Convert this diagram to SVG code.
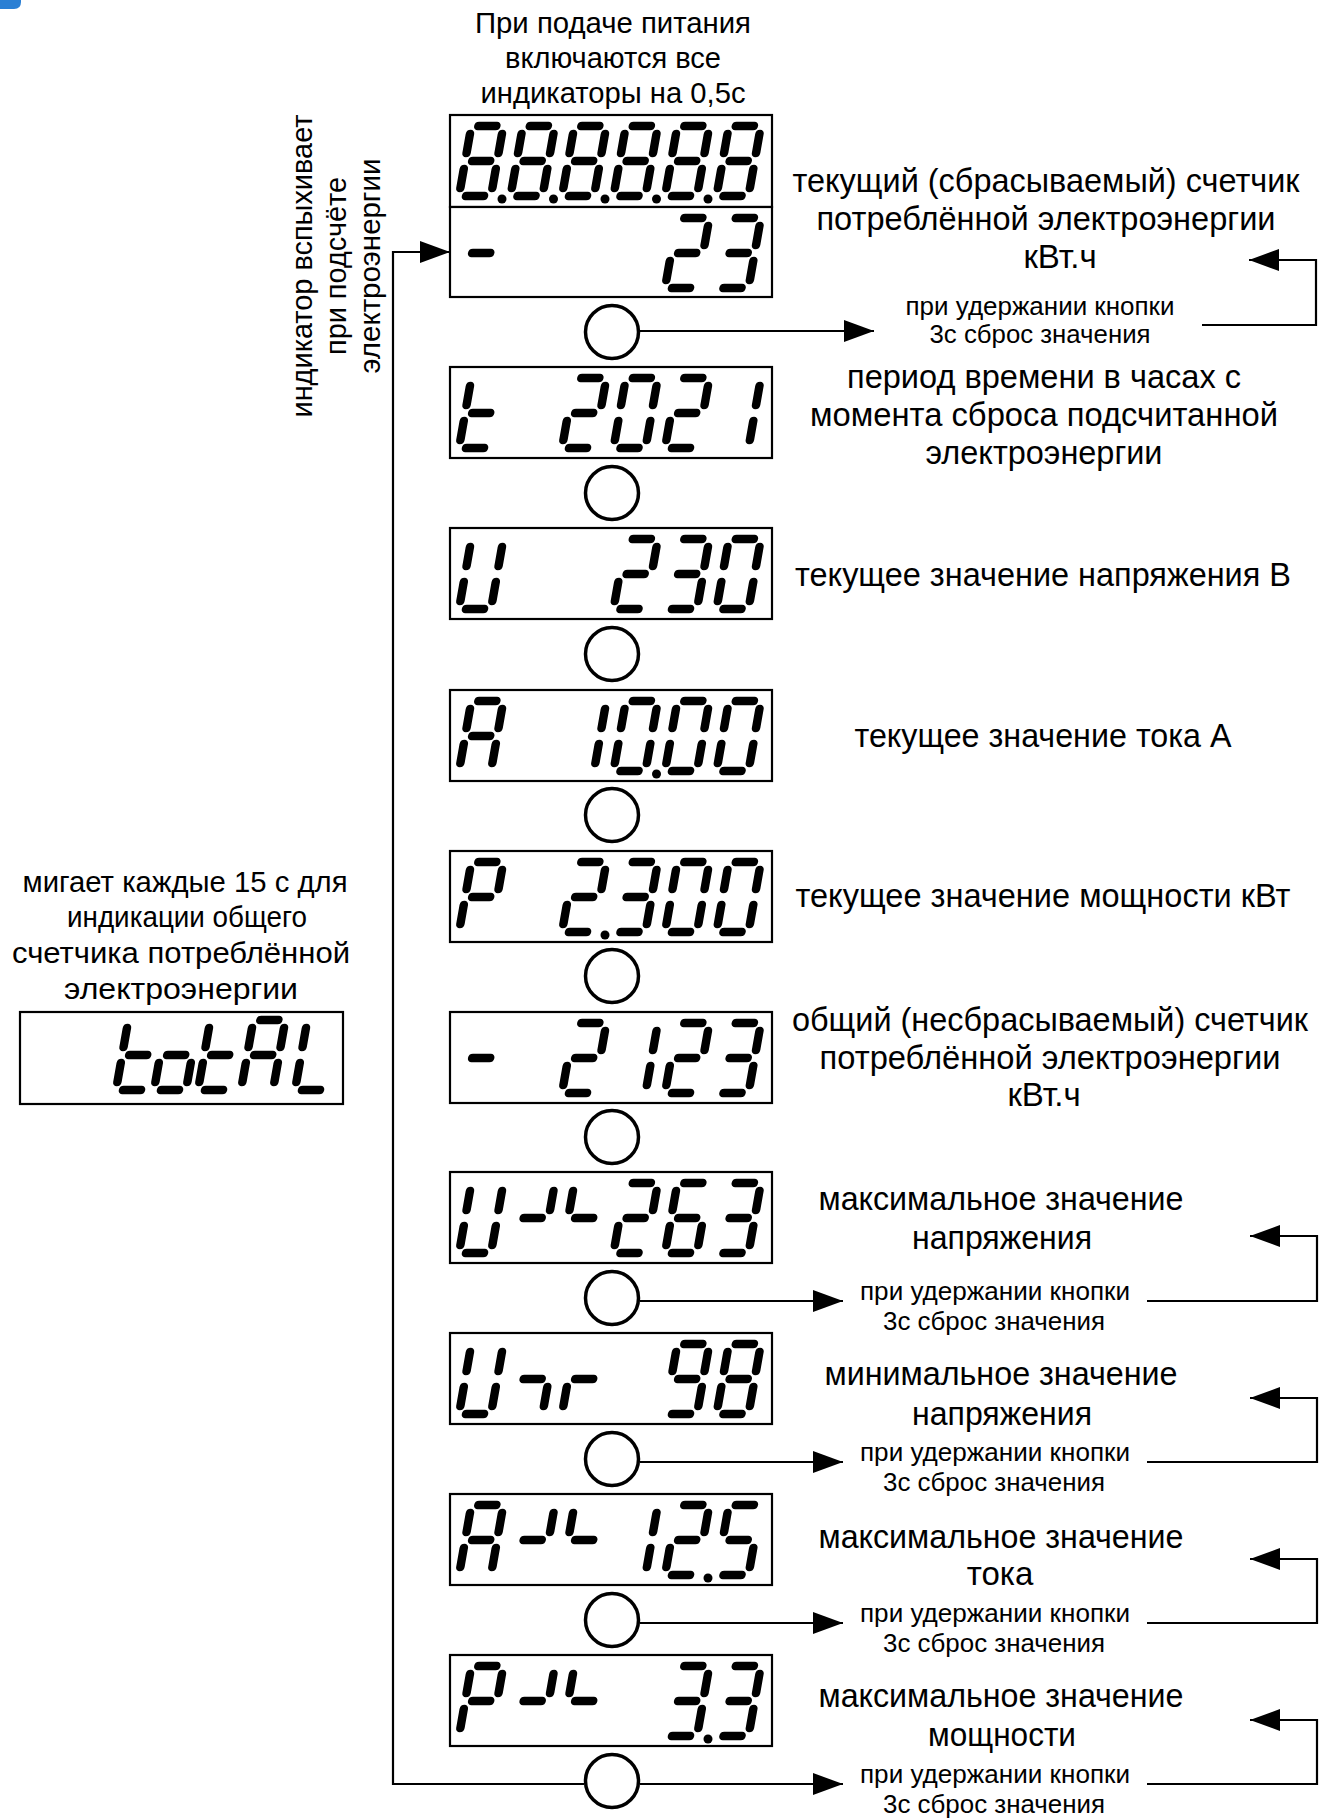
<svg xmlns="http://www.w3.org/2000/svg" xmlns:xlink="http://www.w3.org/1999/xlink" width="1327" height="1819" viewBox="0 0 1327 1819">
<style>
.box{fill:#fff;stroke:#000;stroke-width:2.2}
.btn{fill:#fff;stroke:#000;stroke-width:3.5}
.seg{fill:none;stroke:#000;stroke-width:8.5;stroke-linecap:round}
.dp{fill:#000}
.ln{fill:none;stroke:#000;stroke-width:2.2}
text{font-family:"Liberation Sans",Arial,sans-serif;fill:#000}
.t1{font-size:33px;text-anchor:middle}
.t2{font-size:29.5px;text-anchor:middle}
.t3{font-size:26px;text-anchor:middle}
</style>
<defs>
<marker id="ah" markerUnits="userSpaceOnUse" markerWidth="30" markerHeight="22" refX="30" refY="11" orient="auto"><path d="M0,0L30,11L0,22z" fill="#000"/></marker>
<path id="c8" class="seg" d="M7,-70H25M32,-62V-43M32,-27V-8M7,0H25M0,-27V-8M0,-62V-43M7,-35H25"/>
<path id="c0" class="seg" d="M7,-70H25M32,-62V-43M32,-27V-8M7,0H25M0,-27V-8M0,-62V-43"/>
<path id="c1" class="seg" d="M32,-62V-43M32,-27V-8"/>
<path id="c2" class="seg" d="M7,-70H25M32,-62V-43M7,-35H25M0,-27V-8M7,0H25"/>
<path id="c3" class="seg" d="M7,-70H25M32,-62V-43M7,-35H25M32,-27V-8M7,0H25"/>
<path id="c5" class="seg" d="M7,-70H25M0,-62V-43M7,-35H25M32,-27V-8M7,0H25"/>
<path id="c6" class="seg" d="M7,-70H25M0,-62V-43M7,-35H25M0,-27V-8M32,-27V-8M7,0H25"/>
<path id="c9" class="seg" d="M7,-70H25M32,-62V-43M32,-27V-8M7,0H25M0,-62V-43M7,-35H25"/>
<path id="cA" class="seg" d="M7,-70H25M32,-62V-43M32,-27V-8M0,-27V-8M0,-62V-43M7,-35H25"/>
<path id="cP" class="seg" d="M7,-70H25M32,-62V-43M0,-27V-8M0,-62V-43M7,-35H25"/>
<path id="cU" class="seg" d="M32,-62V-43M32,-27V-8M7,0H25M0,-27V-8M0,-62V-43"/>
<path id="ct" class="seg" d="M7,0H25M0,-27V-8M0,-62V-43M7,-35H25"/>
<path id="cL" class="seg" d="M7,0H25M0,-27V-8M0,-62V-43"/>
<path id="co" class="seg" d="M32,-27V-8M7,0H25M0,-27V-8M7,-35H25"/>
<path id="cm" class="seg" d="M7,-35H25"/>
<path id="cx1" class="seg" d="M32,-62V-43M7,-35H25"/>
<path id="cx2" class="seg" d="M0,-62V-43M7,-35H25"/>
<path id="cn1" class="seg" d="M7,-35H25M32,-27V-8"/>
<path id="cn2" class="seg" d="M0,-27V-8M7,-35H25"/>
</defs>

<path d="M-10,-20H14Q21,-20 21,-13V2Q21,9 14,9H-10z" fill="#2a7fd4"/>

<g id="connectors">
<path class="ln" d="M584,1784H393V252H450" marker-end="url(#ah)"/>
<path class="ln" d="M640,331H874" marker-end="url(#ah)"/>
<path class="ln" d="M1202,325H1316V260H1249" marker-end="url(#ah)"/>
<path class="ln" d="M640,1301H843" marker-end="url(#ah)"/>
<path class="ln" d="M1147,1301H1317V1236H1250" marker-end="url(#ah)"/>
<path class="ln" d="M640,1462H843" marker-end="url(#ah)"/>
<path class="ln" d="M1147,1462H1317V1398H1250" marker-end="url(#ah)"/>
<path class="ln" d="M640,1623H843" marker-end="url(#ah)"/>
<path class="ln" d="M1147,1623H1317V1559H1250" marker-end="url(#ah)"/>
<path class="ln" d="M640,1784H843" marker-end="url(#ah)"/>
<path class="ln" d="M1147,1784H1317V1720H1250" marker-end="url(#ah)"/>
</g>

<g id="disp-test">
<rect class="box" x="450" y="115" width="322" height="92"/>
<use href="#c8" transform="translate(459,196) skewX(-10)"/>
<use href="#c8" transform="translate(510.5,196) skewX(-10)"/>
<use href="#c8" transform="translate(562,196) skewX(-10)"/>
<use href="#c8" transform="translate(613.5,196) skewX(-10)"/>
<use href="#c8" transform="translate(665,196) skewX(-10)"/>
<use href="#c8" transform="translate(716.5,196) skewX(-10)"/>
<circle class="dp" cx="502" cy="199" r="4.5"/>
<circle class="dp" cx="553.5" cy="199" r="4.5"/>
<circle class="dp" cx="605" cy="199" r="4.5"/>
<circle class="dp" cx="656.5" cy="199" r="4.5"/>
<circle class="dp" cx="708" cy="199" r="4.5"/>
</g>
<g id="disp-current">
<rect class="box" x="450" y="207" width="322" height="90"/>
<use href="#cm" transform="translate(459,288) skewX(-10)"/>
<use href="#c2" transform="translate(665,288) skewX(-10)"/>
<use href="#c3" transform="translate(716.5,288) skewX(-10)"/>
</g>
<g id="disp-time">
<rect class="box" x="450" y="367" width="322" height="91"/>
<use href="#ct" transform="translate(459,448) skewX(-10)"/>
<use href="#c2" transform="translate(562,448) skewX(-10)"/>
<use href="#c0" transform="translate(613.5,448) skewX(-10)"/>
<use href="#c2" transform="translate(665,448) skewX(-10)"/>
<use href="#c1" transform="translate(716.5,448) skewX(-10)"/>
</g>
<g id="disp-voltage">
<rect class="box" x="450" y="528" width="322" height="91"/>
<use href="#cU" transform="translate(459,609) skewX(-10)"/>
<use href="#c2" transform="translate(613.5,609) skewX(-10)"/>
<use href="#c3" transform="translate(665,609) skewX(-10)"/>
<use href="#c0" transform="translate(716.5,609) skewX(-10)"/>
</g>
<g id="disp-amp">
<rect class="box" x="450" y="690" width="322" height="91"/>
<use href="#cA" transform="translate(459,771) skewX(-10)"/>
<use href="#c1" transform="translate(562,771) skewX(-10)"/>
<use href="#c0" transform="translate(613.5,771) skewX(-10)"/>
<use href="#c0" transform="translate(665,771) skewX(-10)"/>
<use href="#c0" transform="translate(716.5,771) skewX(-10)"/>
<circle class="dp" cx="656.5" cy="774" r="4.5"/>
</g>
<g id="disp-power">
<rect class="box" x="450" y="851" width="322" height="91"/>
<use href="#cP" transform="translate(459,932) skewX(-10)"/>
<use href="#c2" transform="translate(562,932) skewX(-10)"/>
<use href="#c3" transform="translate(613.5,932) skewX(-10)"/>
<use href="#c0" transform="translate(665,932) skewX(-10)"/>
<use href="#c0" transform="translate(716.5,932) skewX(-10)"/>
<circle class="dp" cx="605" cy="935" r="4.5"/>
</g>
<g id="disp-total">
<rect class="box" x="450" y="1012" width="322" height="91"/>
<use href="#cm" transform="translate(459,1093) skewX(-10)"/>
<use href="#c2" transform="translate(562,1093) skewX(-10)"/>
<use href="#c1" transform="translate(613.5,1093) skewX(-10)"/>
<use href="#c2" transform="translate(665,1093) skewX(-10)"/>
<use href="#c3" transform="translate(716.5,1093) skewX(-10)"/>
</g>
<g id="disp-umax">
<rect class="box" x="450" y="1172" width="322" height="91"/>
<use href="#cU" transform="translate(459,1253) skewX(-10)"/>
<use href="#cx1" transform="translate(510.5,1253) skewX(-10)"/>
<use href="#cx2" transform="translate(562,1253) skewX(-10)"/>
<use href="#c2" transform="translate(613.5,1253) skewX(-10)"/>
<use href="#c6" transform="translate(665,1253) skewX(-10)"/>
<use href="#c3" transform="translate(716.5,1253) skewX(-10)"/>
</g>
<g id="disp-umin">
<rect class="box" x="450" y="1333" width="322" height="91"/>
<use href="#cU" transform="translate(459,1414) skewX(-10)"/>
<use href="#cn1" transform="translate(510.5,1414) skewX(-10)"/>
<use href="#cn2" transform="translate(562,1414) skewX(-10)"/>
<use href="#c9" transform="translate(665,1414) skewX(-10)"/>
<use href="#c8" transform="translate(716.5,1414) skewX(-10)"/>
</g>
<g id="disp-amax">
<rect class="box" x="450" y="1494" width="322" height="91"/>
<use href="#cA" transform="translate(459,1575) skewX(-10)"/>
<use href="#cx1" transform="translate(510.5,1575) skewX(-10)"/>
<use href="#cx2" transform="translate(562,1575) skewX(-10)"/>
<use href="#c1" transform="translate(613.5,1575) skewX(-10)"/>
<use href="#c2" transform="translate(665,1575) skewX(-10)"/>
<use href="#c5" transform="translate(716.5,1575) skewX(-10)"/>
<circle class="dp" cx="708" cy="1578" r="4.5"/>
</g>
<g id="disp-pmax">
<rect class="box" x="450" y="1655" width="322" height="91"/>
<use href="#cP" transform="translate(459,1736) skewX(-10)"/>
<use href="#cx1" transform="translate(510.5,1736) skewX(-10)"/>
<use href="#cx2" transform="translate(562,1736) skewX(-10)"/>
<use href="#c3" transform="translate(665,1736) skewX(-10)"/>
<use href="#c3" transform="translate(716.5,1736) skewX(-10)"/>
<circle class="dp" cx="708" cy="1739" r="4.5"/>
</g>
<g id="disp-totAL">
<rect class="box" x="20" y="1012" width="323" height="92"/>
<use href="#ct" transform="translate(116,1090) skewX(-10)"/>
<use href="#co" transform="translate(154,1090) skewX(-10)"/>
<use href="#ct" transform="translate(198,1090) skewX(-10)"/>
<use href="#cA" transform="translate(241,1090) skewX(-10)"/>
<use href="#cL" transform="translate(295,1090) skewX(-10)"/>
</g>

<g id="buttons">
<circle class="btn" cx="612" cy="332" r="26.5"/>
<circle class="btn" cx="612" cy="493" r="26.5"/>
<circle class="btn" cx="612" cy="654" r="26.5"/>
<circle class="btn" cx="612" cy="815" r="26.5"/>
<circle class="btn" cx="612" cy="976" r="26.5"/>
<circle class="btn" cx="612" cy="1137" r="26.5"/>
<circle class="btn" cx="612" cy="1298" r="26.5"/>
<circle class="btn" cx="612" cy="1459" r="26.5"/>
<circle class="btn" cx="612" cy="1620" r="26.5"/>
<circle class="btn" cx="612" cy="1781" r="26.5"/>
</g>

<g id="label-power-on" class="t2">
<text x="613" y="33" textLength="276" lengthAdjust="spacingAndGlyphs">При подаче питания</text>
<text x="613" y="68" textLength="216" lengthAdjust="spacingAndGlyphs">включаются все</text>
<text x="613" y="103" textLength="265" lengthAdjust="spacingAndGlyphs">индикаторы на 0,5с</text>
</g>
<g id="label-flash" class="t2">
<text transform="translate(312,266) rotate(-90)" textLength="303" lengthAdjust="spacingAndGlyphs">индикатор вспыхивает</text>
<text transform="translate(346,266) rotate(-90)" textLength="178" lengthAdjust="spacingAndGlyphs">при подсчёте</text>
<text transform="translate(380,266) rotate(-90)" textLength="215" lengthAdjust="spacingAndGlyphs">электроэнергии</text>
</g>
<g id="label-totAL" class="t2">
<text x="185" y="892" textLength="325" lengthAdjust="spacingAndGlyphs">мигает каждые 15 с для</text>
<text x="187" y="927" textLength="240" lengthAdjust="spacingAndGlyphs">индикации общего</text>
<text x="181" y="963" textLength="338" lengthAdjust="spacingAndGlyphs">счетчика потреблённой</text>
<text x="181" y="999" textLength="234" lengthAdjust="spacingAndGlyphs">электроэнергии</text>
</g>
<g id="label-current" class="t1">
<text x="1046" y="192" textLength="507" lengthAdjust="spacingAndGlyphs">текущий (сбрасываемый) счетчик</text>
<text x="1046" y="230" textLength="459" lengthAdjust="spacingAndGlyphs">потреблённой электроэнергии</text>
<text x="1060" y="268">кВт.ч</text>
</g>
<g id="label-reset1" class="t3">
<text x="1040" y="315" textLength="269" lengthAdjust="spacingAndGlyphs">при удержании кнопки</text>
<text x="1040" y="343" textLength="221" lengthAdjust="spacingAndGlyphs">3с сброс значения</text>
</g>
<g id="label-time" class="t1">
<text x="1044" y="388" textLength="394" lengthAdjust="spacingAndGlyphs">период времени в часах с</text>
<text x="1044" y="426" textLength="468" lengthAdjust="spacingAndGlyphs">момента сброса подсчитанной</text>
<text x="1044" y="464" textLength="237" lengthAdjust="spacingAndGlyphs">электроэнергии</text>
</g>
<g id="label-voltage" class="t1">
<text x="1043" y="586" textLength="496" lengthAdjust="spacingAndGlyphs">текущее значение напряжения В</text>
</g>
<g id="label-amp" class="t1">
<text x="1043" y="747" textLength="377" lengthAdjust="spacingAndGlyphs">текущее значение тока А</text>
</g>
<g id="label-power" class="t1">
<text x="1043" y="907" textLength="495" lengthAdjust="spacingAndGlyphs">текущее значение мощности кВт</text>
</g>
<g id="label-total" class="t1">
<text x="1050" y="1031" textLength="516" lengthAdjust="spacingAndGlyphs">общий (несбрасываемый) счетчик</text>
<text x="1050" y="1069" textLength="461" lengthAdjust="spacingAndGlyphs">потреблённой электроэнергии</text>
<text x="1044" y="1106">кВт.ч</text>
</g>
<g id="label-umax" class="t1">
<text x="1001" y="1210" textLength="365" lengthAdjust="spacingAndGlyphs">максимальное значение</text>
<text x="1002" y="1249" textLength="180" lengthAdjust="spacingAndGlyphs">напряжения</text>
</g>
<g id="label-umin" class="t1">
<text x="1001" y="1385" textLength="353" lengthAdjust="spacingAndGlyphs">минимальное значение</text>
<text x="1002" y="1425" textLength="180" lengthAdjust="spacingAndGlyphs">напряжения</text>
</g>
<g id="label-amax" class="t1">
<text x="1001" y="1548" textLength="365" lengthAdjust="spacingAndGlyphs">максимальное значение</text>
<text x="1000" y="1585">тока</text>
</g>
<g id="label-pmax" class="t1">
<text x="1001" y="1707" textLength="365" lengthAdjust="spacingAndGlyphs">максимальное значение</text>
<text x="1002" y="1746" textLength="148" lengthAdjust="spacingAndGlyphs">мощности</text>
</g>
<g id="label-reset-lower" class="t3">
<text x="995" y="1300" textLength="270" lengthAdjust="spacingAndGlyphs">при удержании кнопки</text>
<text x="994" y="1330" textLength="222" lengthAdjust="spacingAndGlyphs">3с сброс значения</text>
<text x="995" y="1461" textLength="270" lengthAdjust="spacingAndGlyphs">при удержании кнопки</text>
<text x="994" y="1491" textLength="222" lengthAdjust="spacingAndGlyphs">3с сброс значения</text>
<text x="995" y="1622" textLength="270" lengthAdjust="spacingAndGlyphs">при удержании кнопки</text>
<text x="994" y="1652" textLength="222" lengthAdjust="spacingAndGlyphs">3с сброс значения</text>
<text x="995" y="1783" textLength="270" lengthAdjust="spacingAndGlyphs">при удержании кнопки</text>
<text x="994" y="1813" textLength="222" lengthAdjust="spacingAndGlyphs">3с сброс значения</text>
</g>
</svg>
